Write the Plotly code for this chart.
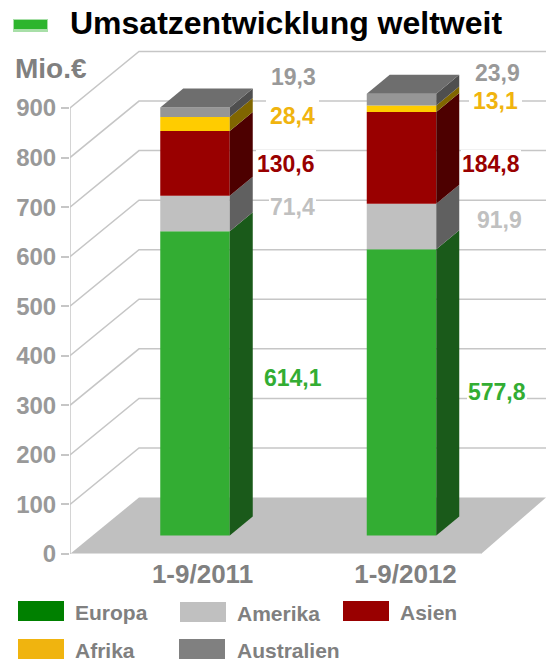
import plotly.graph_objects as go

# ---------- data ----------
categories = ["1-9/2011", "1-9/2012"]
europa = [614.1, 577.8]
amerika = [71.4, 91.9]
asien = [130.6, 184.8]
afrika = [28.4, 13.1]
australien = [19.3, 23.9]
y_ticks = [0, 100, 200, 300, 400, 500, 600, 700, 800, 900]
series_names = ["Europa", "Amerika", "Asien", "Afrika", "Australien"]
series_values = [europa, amerika, asien, afrika, australien]

# ---------- styles / geometry ----------
W, H = 546, 661
AX_L, AX_B = 70, 554
PX_PER_UNIT = 446 / 900
FRONT = ["#33ad33", "#c0c0c0", "#990000", "#ffcc00", "#969696"]
SIDE = ["#1a5a1a", "#606060", "#4d0000", "#806600", "#4f4f4f"]
TOP = "#6e6e6e"
LEGEND = ["#008000", "#c0c0c0", "#990000", "#f0b40f", "#808080"]
GRID = "#c6c6c6"
FONT = "Liberation Sans"

BAR_X = [195, 401.5]
BAR_W = 69.5
LIFT = 18.5 / PX_PER_UNIT          # gap between wall base and front of bar
BAR_DX, BAR_DY = 23, 19 / PX_PER_UNIT
WALL_DX, WALL_DY = 69, 56.5 / PX_PER_UNIT
LABEL_X = [202.5, 405.5]


def px(x, y):
    return dict(x=x / W, y=1 - y / H, xref="paper", yref="paper")


fig = go.Figure()
shapes = []

# floor
shapes.append(dict(type="path", layer="below", xref="x", yref="y", line_width=0, fillcolor="#c0c0c0",
                   path=f"M {AX_L} 0 L {AX_L+WALL_DX} {WALL_DY} L {W} {WALL_DY} L 481 0 Z"))
shapes.append(dict(type="line", layer="below", xref="x", yref="y", x0=AX_L, x1=481, y0=0, y1=0,
                   line=dict(color="#e8e8e8", width=1.5)))
# wall grid
for v in y_ticks[1:]:
    shapes.append(dict(type="path", layer="below", xref="x", yref="y",
                       line=dict(color=GRID, width=1.5),
                       path=f"M {AX_L} {v} L {AX_L+WALL_DX} {v+WALL_DY} L {W} {v+WALL_DY}"))
# axis line
shapes.append(dict(type="line", layer="below", xref="x", yref="y", x0=AX_L, x1=AX_L, y0=0, y1=y_ticks[-1],
                   line=dict(color=GRID, width=1.5)))

# stacked bars
for i, vals in enumerate(series_values):
    bases = [LIFT + sum(s[j] for s in series_values[:i]) for j in range(2)]
    fig.add_trace(go.Bar(x=BAR_X, y=vals, base=bases, width=BAR_W, name=series_names[i],
                         marker=dict(color=FRONT[i], line_width=0), showlegend=False, hoverinfo="skip"))
    for j in range(2):
        xr = BAR_X[j] + BAR_W / 2
        b, t = bases[j], bases[j] + vals[j]
        fig.add_trace(go.Scatter(x=[xr, xr + BAR_DX, xr + BAR_DX, xr, xr],
                                 y=[b, b + BAR_DY, t + BAR_DY, t, b],
                                 mode="lines", fill="toself", fillcolor=SIDE[i], line_width=0,
                                 showlegend=False, hoverinfo="skip"))
# bar tops
for j in range(2):
    xl, xr = BAR_X[j] - BAR_W / 2, BAR_X[j] + BAR_W / 2
    t = LIFT + sum(s[j] for s in series_values)
    fig.add_trace(go.Scatter(x=[xl, xr, xr + BAR_DX, xl + BAR_DX, xl],
                             y=[t, t, t + BAR_DY, t + BAR_DY, t],
                             mode="lines", fill="toself", fillcolor=TOP, line_width=0,
                             showlegend=False, hoverinfo="skip"))

annotations = []


def label(text, x, y, color, size, pad=1, bg=None, anchor="center"):
    annotations.append(dict(text=f"<b>{text}</b>", showarrow=False, xanchor=anchor, yanchor="middle",
                            font=dict(family=FONT, size=size, color=color), borderpad=pad,
                            bgcolor=bg, borderwidth=0, **px(x, y)))


fmt = lambda v: f"{v:.1f}".replace(".", ",")
LABEL_COLORS = ["#33ad33", "#c0c0c0", "#990000", "#f0b40f", "#999999"]
LABEL_POS = [
    [(293, 378), (497, 392)],
    [(292, 207), (499, 220)],
    [(286, 164), (491, 164)],
    [(292, 116), (495, 101)],
    [(293, 77), (497, 73)],
]
LABEL_PAD = [1, 1, 1, 4, 1]
for i, vals in enumerate(series_values):
    for j, v in enumerate(vals):
        x, y = LABEL_POS[i][j]
        label(fmt(v), x, y, LABEL_COLORS[i], 23, pad=LABEL_PAD[i], bg="white")

# titles
label("Umsatzentwicklung weltweit", 69, 23, "#000000", 32, anchor="left")
label("Mio.€", 14, 68, "#808080", 28, anchor="left")

# header icon
shapes.append(dict(type="rect", xref="paper", yref="paper", x0=13 / W, x1=48 / W, y0=1 - 32 / H, y1=1 - 19 / H,
                   line_width=0, fillcolor="#a8dfa8"))
shapes.append(dict(type="rect", xref="paper", yref="paper", x0=14 / W, x1=47 / W, y0=1 - 29 / H, y1=1 - 20 / H,
                   line_width=0, fillcolor="#2db52d"))

# legend
LEG_POS = [(18, 601, 74, 612), (180, 602, 236, 613), (343, 601, 399, 612),
           (18, 639, 74, 650), (179, 639, 236, 650)]
for name, col, (sx, sy, tx, ty) in zip(series_names, LEGEND, LEG_POS):
    shapes.append(dict(type="rect", xref="paper", yref="paper", x0=sx / W, x1=(sx + 46) / W,
                       y0=1 - (sy + 20) / H, y1=1 - sy / H, line_width=0, fillcolor=col))
    label(name, tx, ty, "#808080", 21, anchor="left")

fig.update_layout(
    width=W, height=H, autosize=False, margin=dict(l=0, r=0, t=0, b=0),
    paper_bgcolor="white", plot_bgcolor="rgba(0,0,0,0)",
    barmode="overlay", showlegend=False, shapes=shapes, annotations=annotations,
    xaxis=dict(domain=[AX_L / W, 1], range=[AX_L, W], automargin=False, showgrid=False, zeroline=False,
               showline=False, tickmode="array", tickvals=LABEL_X, ticktext=[f"<b>{c}</b>" for c in categories],
               ticks="", ticklabelstandoff=2, tickfont=dict(family=FONT, size=26, color="#808080")),
    yaxis=dict(domain=[(H - AX_B) / H, 1], range=[0, AX_B / PX_PER_UNIT], automargin=False, showgrid=False,
               zeroline=False, showline=False, tickmode="array", tickvals=y_ticks,
               ticktext=[f"<b>{v}</b>" for v in y_ticks], ticks="outside", ticklen=8, tickwidth=1.5,
               tickcolor=GRID, tickfont=dict(family=FONT, size=24, color="#999999")),
)
fig.write_html("out.html", config=dict(displayModeBar=False, responsive=False),
               post_script="document.documentElement.style.margin='0';document.body.style.margin='0';"
                           "document.body.style.overflow='hidden';")
